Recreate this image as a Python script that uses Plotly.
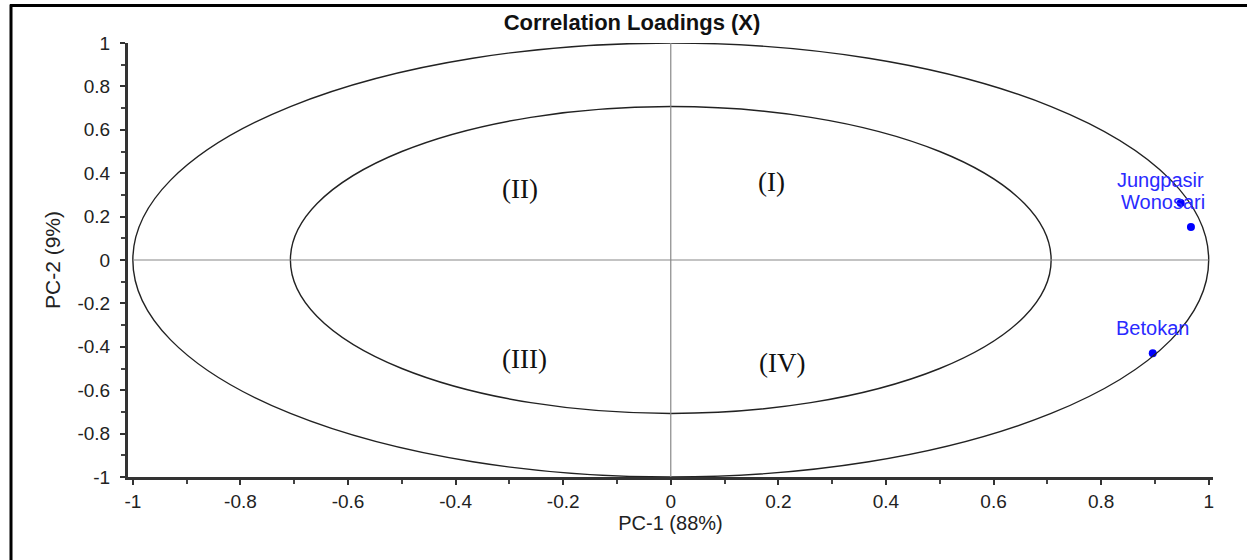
import plotly.graph_objects as go
import numpy as np

# Data
names = ["Jungpasir", "Wonosari", "Betokan"]
pc1 = [0.948, 0.967, 0.896]
pc2 = [0.263, 0.152, -0.430]
label_shift_x = [-20, -28, 0]
label_shift_y = [23, 25, 25]

tick_vals = [-1, -0.8, -0.6, -0.4, -0.2, 0, 0.2, 0.4, 0.6, 0.8, 1]
tick_text = ["-1", "-0.8", "-0.6", "-0.4", "-0.2", "0", "0.2", "0.4", "0.6", "0.8", "1"]

quad_labels = ["(I)", "(II)", "(III)", "(IV)"]
quad_x = [0.188, -0.28, -0.272, 0.206]
quad_y = [0.36, 0.325, -0.455, -0.475]

inner_r = np.sqrt(0.5)

SANS = "Liberation Sans, Arial"
fig = go.Figure()

fig.add_trace(go.Scatter(
    x=pc1, y=pc2, mode="markers",
    marker=dict(color="#0000ff", size=8),
    hoverinfo="text", text=names, showlegend=False, cliponaxis=False,
))

for n, x, y, sx, sy in zip(names, pc1, pc2, label_shift_x, label_shift_y):
    fig.add_annotation(x=x, y=y, text=n, showarrow=False, xshift=sx, yshift=sy,
                       font=dict(family=SANS, size=20, color="#2a2aff"))

for t, x, y in zip(quad_labels, quad_x, quad_y):
    fig.add_annotation(x=x, y=y, text=t, showarrow=False,
                       font=dict(family="Liberation Serif, Times New Roman", size=27, color="#111111"))

shapes = [
    dict(type="circle", xref="x", yref="y", x0=-1, y0=-1, x1=1, y1=1,
         line=dict(color="#222222", width=1.4)),
    dict(type="circle", xref="x", yref="y", x0=-inner_r, y0=-inner_r, x1=inner_r, y1=inner_r,
         line=dict(color="#222222", width=1.4)),
    dict(type="line", xref="x", yref="y", x0=-1, y0=0, x1=1, y1=0,
         line=dict(color="#888888", width=1.2)),
    dict(type="line", xref="x", yref="y", x0=0, y0=-1, x1=0, y1=1,
         line=dict(color="#888888", width=1.2)),
    # outer frame (top and left)
    dict(type="line", xref="paper", yref="paper", x0=(10 - 128) / 1085, y0=(477 - 6) / 433.5,
         x1=(1260 - 128) / 1085, y1=(477 - 6) / 433.5, line=dict(color="black", width=3)),
    dict(type="line", xref="paper", yref="paper", x0=(11 - 128) / 1085, y0=(477 - 5) / 433.5,
         x1=(11 - 128) / 1085, y1=(477 - 600) / 433.5, line=dict(color="black", width=3)),
]

axis_common = dict(
    tickvals=tick_vals, ticktext=tick_text,
    ticks="outside", ticklen=5, tickwidth=2, tickcolor="#333333",
    showline=True, linecolor="#333333", linewidth=3,
    showgrid=False, zeroline=False,
    tickfont=dict(family=SANS, size=19, color="#222222"),
    minor=dict(ticks="outside", ticklen=4, tickwidth=2, tickcolor="#444444", dtick=0.1, showgrid=False),
)

fig.update_layout(
    width=1247, height=560,
    margin=dict(l=128, r=34, t=43, b=83),
    paper_bgcolor="white", plot_bgcolor="white",
    title=dict(text="<b>Correlation Loadings (X)</b>", x=632 / 1247, xanchor="center",
               y=1 - 22 / 560, yanchor="middle",
               font=dict(family=SANS, size=22, color="#111111")),
    xaxis=dict(range=[-1.009, 1.008], ticklabelstandoff=0,
               title=dict(text="PC-1 (88%)", standoff=4,
                          font=dict(family=SANS, size=20, color="#222222")),
               **axis_common),
    yaxis=dict(range=[-1, 1], ticklabelstandoff=6,
               title=dict(text="PC-2 (9%)", standoff=12,
                          font=dict(family=SANS, size=21, color="#222222")),
               **axis_common),
    shapes=shapes,
)

fig.write_html("out.html")
